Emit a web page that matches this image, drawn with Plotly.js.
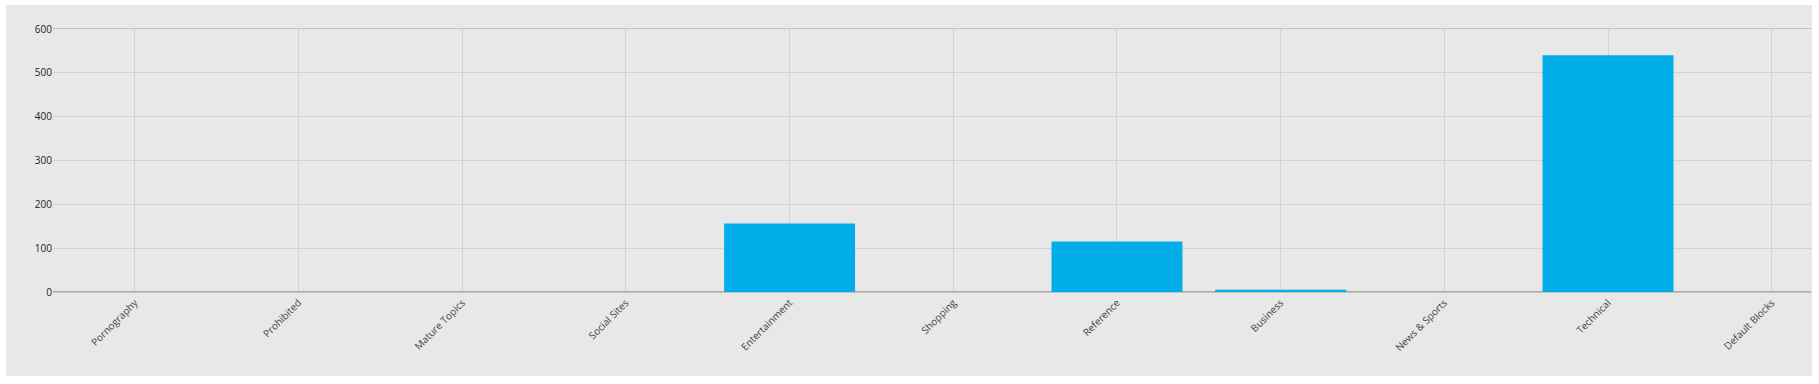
<!DOCTYPE html>
<html><head><meta charset="utf-8">
<script src="https://cdn.plot.ly/plotly-3.0.1.min.js"></script>
<style>
html,body{margin:0;padding:0;background:#fff;width:1819px;height:384px;overflow:hidden;}
#chart{position:absolute;left:6px;top:5px;width:1806px;height:371px;}
</style></head>
<body><div id="chart"></div>
<script>
const categories = ["Pornography","Prohibited","Mature Topics","Social Sites","Entertainment","Shopping","Reference","Business","News & Sports","Technical","Default Blocks"];
const values = [0,0,0,0,156,0,115,5,0,540,0];
const yTicks = [0,100,200,300,400,500,600];

Plotly.newPlot('chart',[{
  type:'bar', x:categories, y:values, width:0.8,
  marker:{color:'#02AEE9', line:{width:0}},
  hoverinfo:'x+y'
}],{
  width:1806, height:371,
  margin:{l:47,r:1,t:24,b:84},
  paper_bgcolor:'#e8e8e8', plot_bgcolor:'#e8e8e8',
  font:{family:'Open Sans, sans-serif', size:10, color:'#333'},
  showlegend:false,
  xaxis:{type:'category', range:[-0.5,10.24], tickangle:-45, showgrid:true, gridcolor:'#d2d2d2', gridwidth:1,
    ticks:'', tickfont:{size:10,color:'#444'}, showline:true, mirror:true, linecolor:'#c4c4c4', linewidth:1,
    zeroline:false, fixedrange:true},
  yaxis:{range:[0,600], tickvals:yTicks, ticktext:yTicks.map(String), showgrid:true, gridcolor:'#d2d2d2',
    zeroline:true, zerolinecolor:'#a8a8a8', zerolinewidth:2, ticks:'', ticklen:0, tickfont:{size:10,color:'#222'},
    showline:false, fixedrange:true}
},{displayModeBar:false, staticPlot:true});
</script></body></html>
